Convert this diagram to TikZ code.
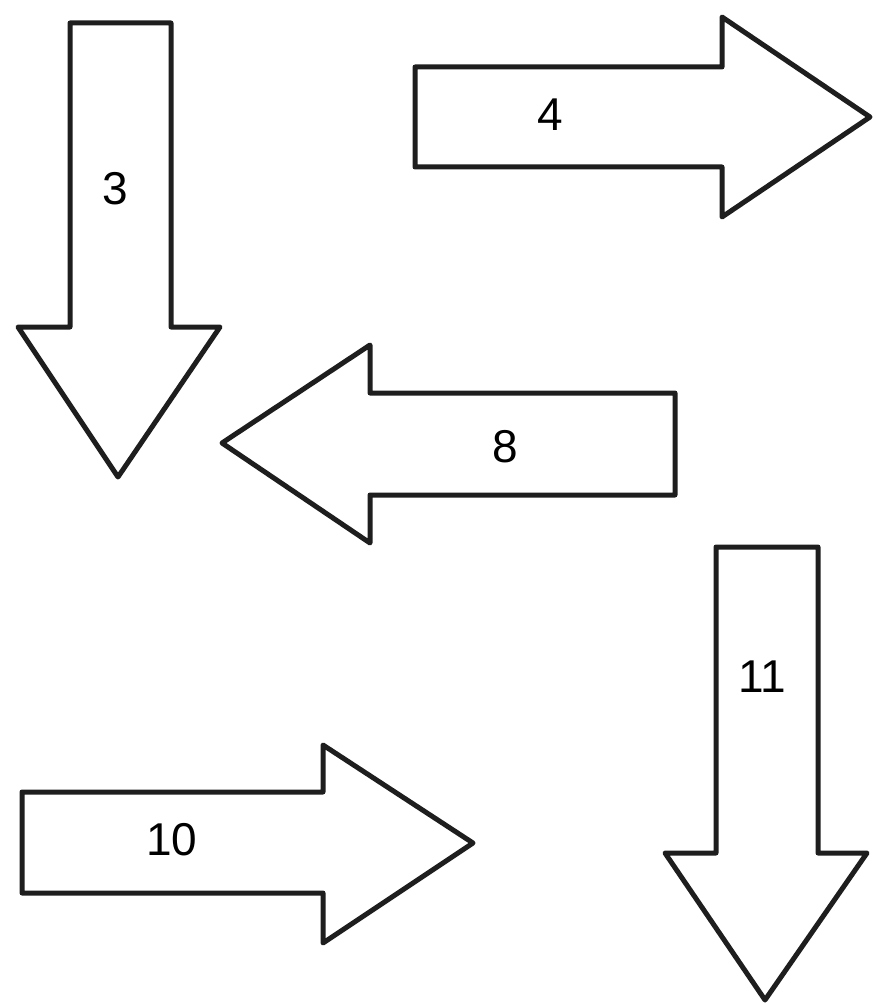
\documentclass[tikz,border=0pt]{standalone}
\usepackage{fontspec}
\setmainfont{Liberation Sans}
\usetikzlibrary{positioning}
\definecolor{arrowline}{RGB}{30, 30, 30}
\tikzset{
  blockarrow/.style={draw=arrowline, line width=5pt, line join=round, fill=white},
  arrowlabel/.style={font=\fontsize{46}{46}\selectfont, text=black, inner sep=0pt}
}

\begin{document}
\begin{tikzpicture}[x=1pt, y=-1pt]
  \useasboundingbox (0,0) rectangle (875,1003);
  % arrow 3, pointing down
  \draw[blockarrow] (70,23) -- (171,23) -- (171,327) -- (220,327) -- (118,477)
        -- (18,327) -- (70,327) -- cycle;
  \node[arrowlabel] (lab3) at (115,189) {3};
  % arrow 4, pointing right
  \draw[blockarrow] (415,67) -- (722,67) -- (722,17) -- (870,117) -- (722,217)
        -- (722,167) -- (415,167) -- cycle;
  \node[arrowlabel] (lab4) at (550,115) {4};
  % arrow 8, pointing left
  \draw[blockarrow] (675,393) -- (370,393) -- (370,345) -- (222,443) -- (370,543)
        -- (370,495) -- (675,495) -- cycle;
  \node[arrowlabel] (lab8) at (505,447) {8};
  % arrow 11, pointing down
  \draw[blockarrow] (716,547) -- (818,547) -- (818,853) -- (867,853) -- (765,1000)
        -- (665,853) -- (716,853) -- cycle;
  \node[arrowlabel] (lab11) at (762,677) {11};
  % arrow 10, pointing right
  \draw[blockarrow] (22,792) -- (323,792) -- (323,745) -- (473,843) -- (323,943)
        -- (323,893) -- (22,893) -- cycle;
  \node[arrowlabel] (lab10) at (172,840) {10};
\end{tikzpicture}
\end{document}
